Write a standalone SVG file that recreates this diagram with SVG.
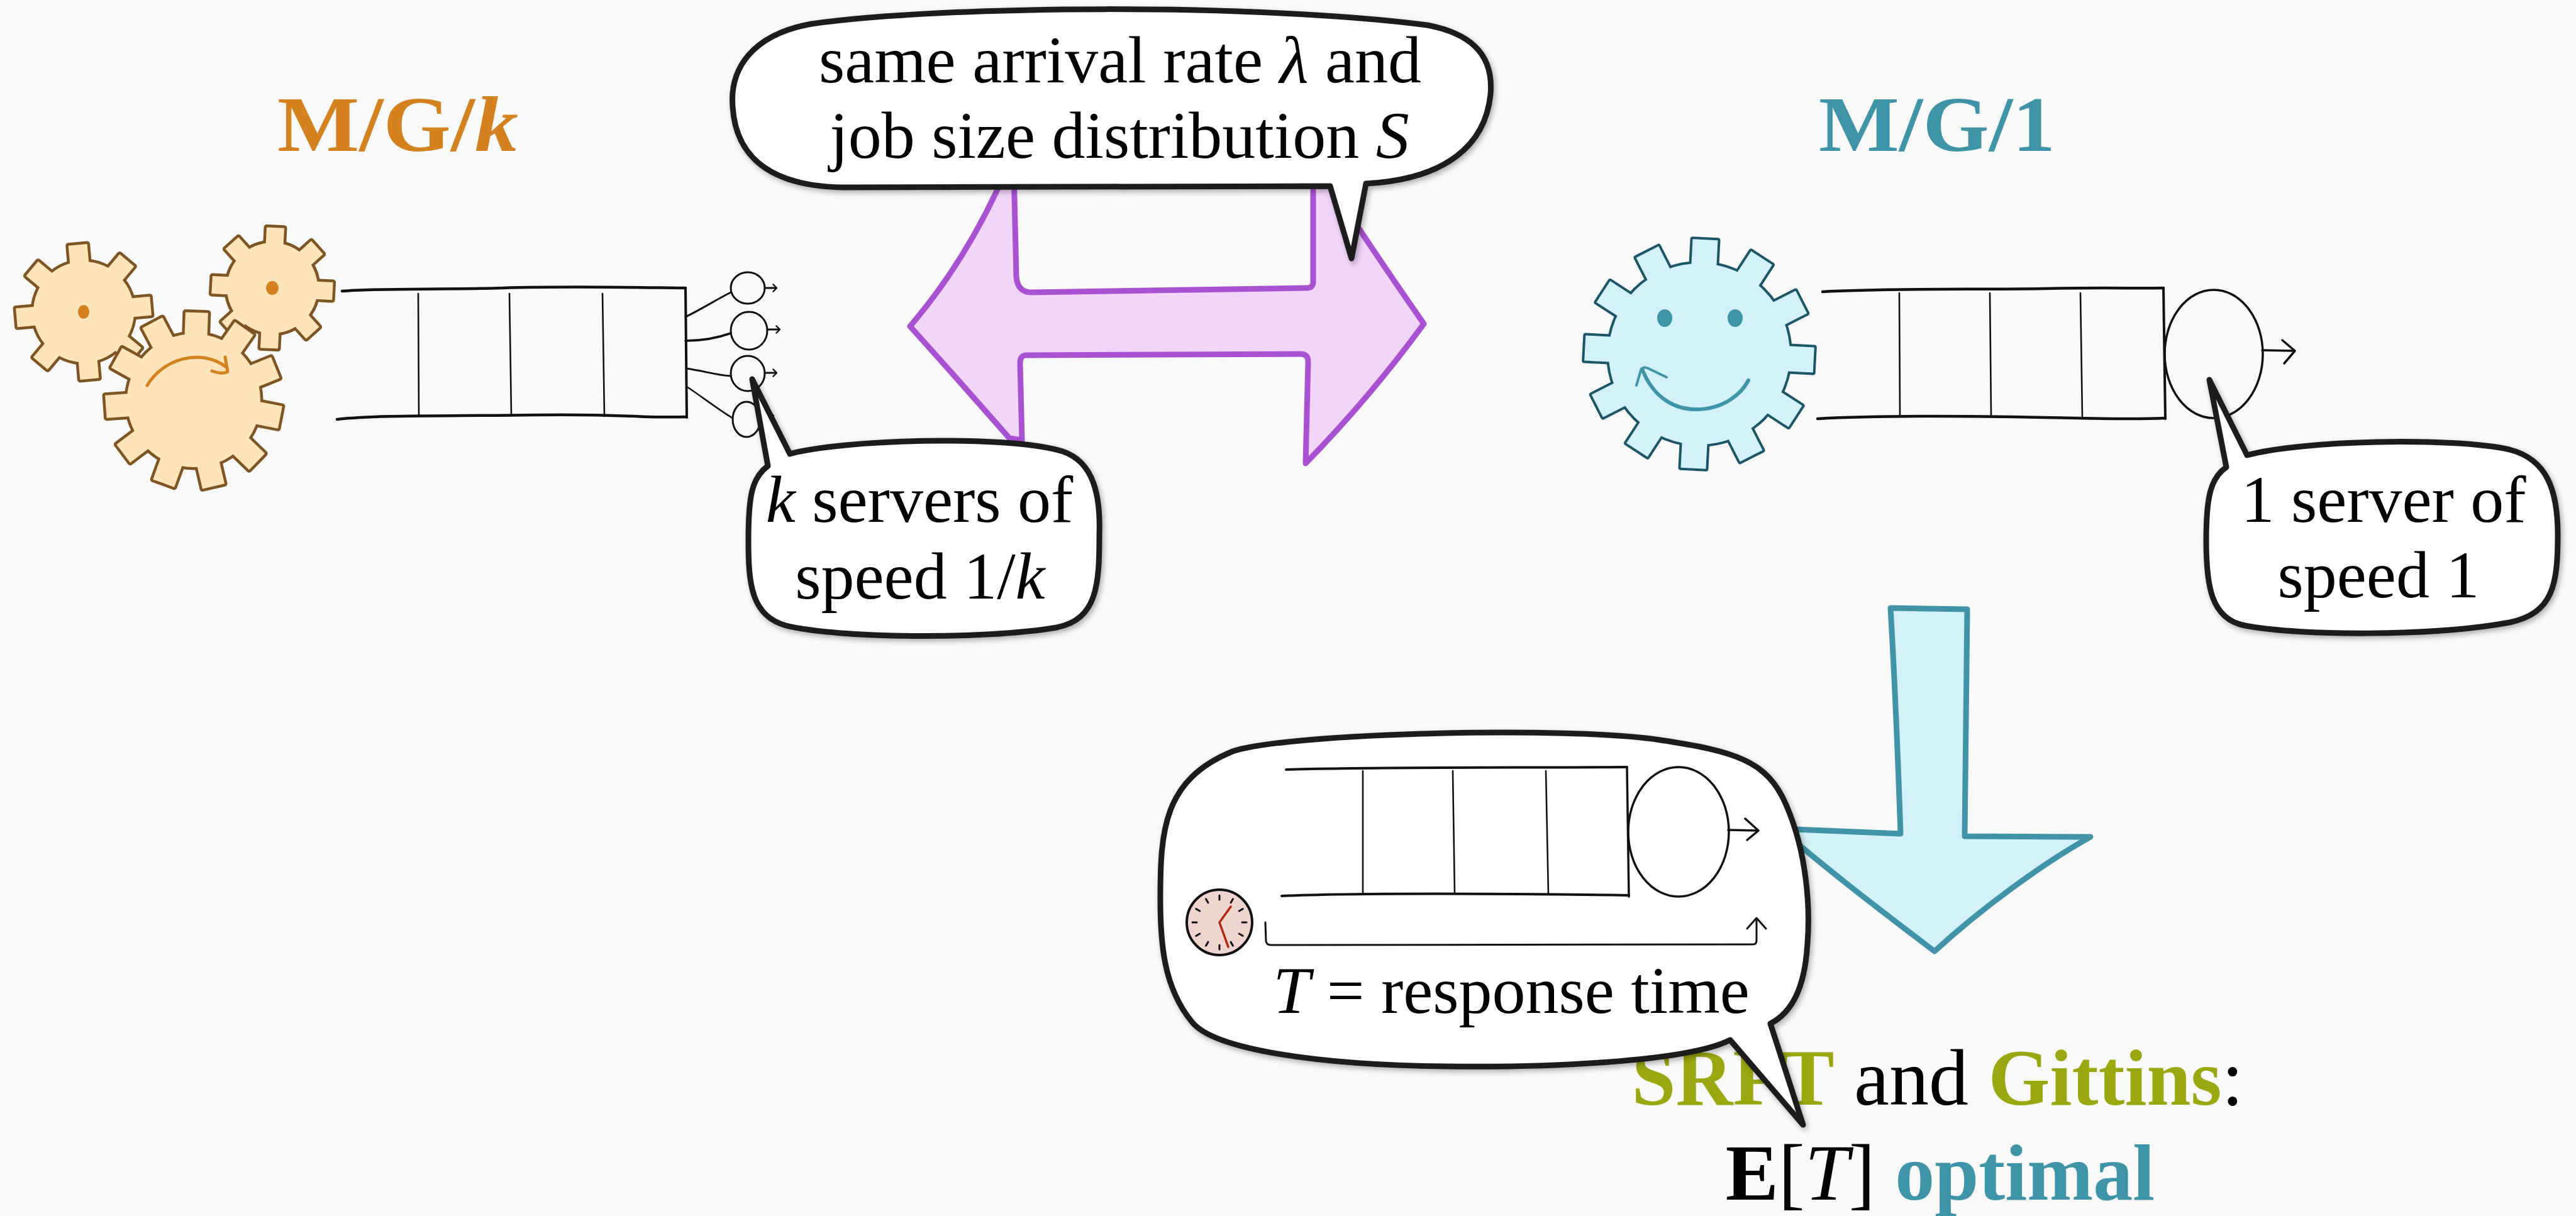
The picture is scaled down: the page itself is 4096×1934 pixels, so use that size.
<svg xmlns="http://www.w3.org/2000/svg" xmlns:xlink="http://www.w3.org/1999/xlink" width="4096" height="1934" viewBox="0 0 4096 1934">
  <style>
    .ink { fill: none; stroke: #111; stroke-linecap: round; stroke-linejoin: round; }
    .hline { stroke-width: 4.5; }
    .vline { stroke-width: 2.6; }
    .edge { stroke-width: 4; }
    .srv { fill: none; stroke: #111; stroke-width: 3.5; }
    .small { fill: none; stroke: #111; stroke-width: 3; }
    .bubble { fill: #ffffff; stroke: #1e1e1e; stroke-width: 9; stroke-linejoin: round; filter: url(#shade); }
    .txt { font-family: "Liberation Serif", "DejaVu Serif", serif; fill: #000; }
    .bt { font-size: 106px; text-anchor: middle; }
    .title { font-size: 124px; font-weight: bold; }
    .big { font-size: 126px; text-anchor: middle; }
    .orange-edge { fill: #7d5523; stroke: #7d5523; stroke-width: 9; stroke-linejoin: round; }
    .orange-face { fill: #ffe4bb; stroke: none; }
    .blue-edge { fill: #1c5566; stroke: #1c5566; stroke-width: 8; stroke-linejoin: round; }
    .blue-face { fill: #d2f1f8; stroke: none; }
  </style>
  <defs>
    <filter id="shade" x="-10%" y="-10%" width="120%" height="130%">
      <feDropShadow dx="3" dy="4" stdDeviation="4" flood-color="#000" flood-opacity="0.3"/>
    </filter>
    <!-- gear silhouettes: body disc plus rectangular teeth -->
    <g id="gearA">
      <circle r="80"/>
      <rect x="-15" y="-107" width="30" height="34" transform="rotate(-5)"/>
      <rect x="-15" y="-107" width="30" height="34" transform="rotate(40)"/>
      <rect x="-15" y="-107" width="30" height="34" transform="rotate(85)"/>
      <rect x="-15" y="-107" width="30" height="34" transform="rotate(130)"/>
      <rect x="-15" y="-107" width="30" height="34" transform="rotate(175)"/>
      <rect x="-15" y="-107" width="30" height="34" transform="rotate(220)"/>
      <rect x="-15" y="-107" width="30" height="34" transform="rotate(265)"/>
      <rect x="-15" y="-107" width="30" height="34" transform="rotate(310)"/>
    </g>
    <g id="gearB">
      <circle r="72"/>
      <rect x="-14" y="-96" width="28" height="30" transform="rotate(3)"/>
      <rect x="-14" y="-96" width="28" height="30" transform="rotate(48)"/>
      <rect x="-14" y="-96" width="28" height="30" transform="rotate(93)"/>
      <rect x="-14" y="-96" width="28" height="30" transform="rotate(138)"/>
      <rect x="-14" y="-96" width="28" height="30" transform="rotate(183)"/>
      <rect x="-14" y="-96" width="28" height="30" transform="rotate(228)"/>
      <rect x="-14" y="-96" width="28" height="30" transform="rotate(273)"/>
      <rect x="-14" y="-96" width="28" height="30" transform="rotate(318)"/>
    </g>
    <g id="gearC">
      <circle r="106"/>
      <rect x="-18" y="-140" width="36" height="40" transform="rotate(2)"/>
      <rect x="-18" y="-140" width="36" height="40" transform="rotate(35)"/>
      <rect x="-18" y="-140" width="36" height="40" transform="rotate(68)"/>
      <rect x="-18" y="-140" width="36" height="40" transform="rotate(101)"/>
      <rect x="-18" y="-140" width="36" height="40" transform="rotate(134)"/>
      <rect x="-18" y="-140" width="36" height="40" transform="rotate(167)"/>
      <rect x="-18" y="-140" width="36" height="40" transform="rotate(200)"/>
      <rect x="-18" y="-140" width="36" height="40" transform="rotate(233)"/>
      <rect x="-18" y="-140" width="36" height="40" transform="rotate(266)"/>
      <rect x="-18" y="-140" width="36" height="40" transform="rotate(299)"/>
      <rect x="-18" y="-140" width="36" height="40" transform="rotate(332)"/>
    </g>
    <g id="gearD">
      <circle r="144"/>
      <rect x="-20" y="-182" width="40" height="44" transform="rotate(3)"/>
      <rect x="-20" y="-182" width="40" height="44" transform="rotate(33)"/>
      <rect x="-20" y="-182" width="40" height="44" transform="rotate(63)"/>
      <rect x="-20" y="-182" width="40" height="44" transform="rotate(93)"/>
      <rect x="-20" y="-182" width="40" height="44" transform="rotate(123)"/>
      <rect x="-20" y="-182" width="40" height="44" transform="rotate(153)"/>
      <rect x="-20" y="-182" width="40" height="44" transform="rotate(183)"/>
      <rect x="-20" y="-182" width="40" height="44" transform="rotate(213)"/>
      <rect x="-20" y="-182" width="40" height="44" transform="rotate(243)"/>
      <rect x="-20" y="-182" width="40" height="44" transform="rotate(273)"/>
      <rect x="-20" y="-182" width="40" height="44" transform="rotate(303)"/>
      <rect x="-20" y="-182" width="40" height="44" transform="rotate(333)"/>
    </g>
    <line id="tick" x1="0" y1="-43" x2="0" y2="-36" stroke="#111" stroke-width="3" stroke-linecap="round"/>
    <path id="chev" d="M -7,-7 L 0,0 L -7,7" fill="none" stroke="#111" stroke-width="3" stroke-linecap="round" stroke-linejoin="round"/>
  </defs>

  <rect width="4096" height="1934" fill="#f9f9f9"/>

  <!-- titles -->
  <g id="title-mgk">
    <text class="txt title" x="441" y="240" style="fill:#d4821f" textLength="383" lengthAdjust="spacingAndGlyphs">M/G/<tspan font-style="italic">k</tspan></text>
  </g>
  <g id="title-mg1">
    <text class="txt title" x="2892" y="240" style="fill:#3f94a8" textLength="376" lengthAdjust="spacingAndGlyphs">M/G/1</text>
  </g>

  <!-- three orange gears -->
  <g id="gears-k">
    <use href="#gearA" class="orange-edge" transform="translate(133,496)"/>
    <use href="#gearA" class="orange-face" transform="translate(133,496)"/>
    <use href="#gearB" class="orange-edge" transform="translate(433,458)"/>
    <use href="#gearB" class="orange-face" transform="translate(433,458)"/>
    <use href="#gearC" class="orange-edge" transform="translate(308,637)"/>
    <use href="#gearC" class="orange-face" transform="translate(308,637)"/>
    <ellipse cx="133" cy="496" rx="9" ry="11" fill="#d4821f"/>
    <ellipse cx="433" cy="458" rx="10" ry="11" fill="#d4821f"/>
    <path d="M 234,613 C 258,572 318,552 360,584" fill="none" stroke="#d4821f" stroke-width="5" stroke-linecap="round"/>
    <path d="M 337,590 Q 355,596 362,591 L 358,568" fill="none" stroke="#d4821f" stroke-width="5" stroke-linecap="round" stroke-linejoin="round"/>
  </g>

  <!-- queue of the k-server system -->
  <g id="queue-k">
    <path class="ink hline" d="M 544,463 C 600,458 700,461 800,458 S 1000,457 1090,458"/>
    <path class="ink hline" d="M 536,667 C 600,660 700,662 850,660 S 1000,665 1091,663"/>
    <path class="ink edge" d="M 1090,458 L 1092,664"/>
    <path class="ink vline" d="M 665,467 L 666,660"/>
    <path class="ink vline" d="M 810,467 L 813,660"/>
    <path class="ink vline" d="M 958,467 L 961,662"/>
  </g>

  <!-- k small servers -->
  <g id="servers-k">
    <ellipse class="small" cx="1189" cy="458" rx="27" ry="25"/>
    <ellipse class="small" cx="1191" cy="526" rx="29" ry="30"/>
    <ellipse class="small" cx="1189" cy="594" rx="27" ry="28"/>
    <ellipse class="small" cx="1187" cy="667" rx="22" ry="28"/>
  </g>

  <!-- connectors: queue to servers, server outputs -->
  <g id="connectors">
    <path class="ink" stroke-width="3" d="M 1090,504 C 1115,492 1140,476 1162,465"/>
    <path class="ink" stroke-width="3.5" d="M 1090,542 C 1120,542 1145,536 1162,530"/>
    <path class="ink" stroke-width="3" d="M 1091,586 C 1120,590 1140,597 1162,598"/>
    <path class="ink" stroke-width="2.5" d="M 1092,615 C 1115,630 1140,650 1165,665"/>
    <path class="ink" stroke-width="3" d="M 1216,458 L 1234,458"/>
    <use href="#chev" transform="translate(1235,458) scale(0.8)"/>
    <path class="ink" stroke-width="3" d="M 1220,524 L 1239,524"/>
    <use href="#chev" transform="translate(1240,524) scale(0.8)"/>
    <path class="ink" stroke-width="3" d="M 1216,593 L 1234,593"/>
    <use href="#chev" transform="translate(1235,593) scale(0.8)"/>
    <path class="ink" stroke-width="3" d="M 1209,661 L 1229,661"/>
    <use href="#chev" transform="translate(1230,661) scale(0.8)"/>
    <path class="ink" stroke-width="3.5" d="M 3597,557 L 3648,558"/>
    <path class="ink" stroke-width="3.5" d="M 3629,541 L 3649,558 L 3632,578"/>
  </g>

  <!-- smiling single gear -->
  <g id="gear-1">
    <use href="#gearD" class="blue-edge" transform="translate(2702,563)"/>
    <use href="#gearD" class="blue-face" transform="translate(2702,563)"/>
    <ellipse cx="2647" cy="506" rx="12" ry="14" fill="#3f94a8"/>
    <ellipse cx="2759" cy="506" rx="12" ry="14" fill="#3f94a8"/>
    <path d="M 2611,587 C 2630,635 2665,652 2700,651 C 2740,650 2768,628 2780,605" fill="none" stroke="#3f94a8" stroke-width="6" stroke-linecap="round"/>
    <path d="M 2602,613 L 2609,589 Q 2613,582 2621,586 L 2650,600" fill="none" stroke="#3f94a8" stroke-width="4" stroke-linecap="round" stroke-linejoin="round"/>
  </g>

  <!-- queue of the single-server system -->
  <g id="queue-1">
    <path class="ink hline" d="M 2898,464 C 3000,458 3150,461 3250,459 S 3400,459 3440,458"/>
    <path class="ink hline" d="M 2890,666 C 3000,660 3150,662 3250,664 S 3400,667 3442,665"/>
    <path class="ink edge" d="M 3440,458 L 3443,666"/>
    <path class="ink vline" d="M 3020,466 L 3021,660"/>
    <path class="ink vline" d="M 3164,466 L 3166,660"/>
    <path class="ink vline" d="M 3308,466 L 3311,664"/>
    <ellipse class="srv" cx="3520" cy="563" rx="78" ry="102"/>
  </g>

  <!-- purple double arrow -->
  <g id="arrow-equiv">
    <path d="M 1612,270 L 1616,440 Q 1618,465 1640,465 L 2078,458 Q 2088,458 2088,448 L 2088,270 L 2100,270 Q 2170,380 2264,515 Q 2180,630 2076,737 L 2080,575 Q 2080,563 2068,563 L 1632,565 Q 1622,565 1622,577 L 1625,700 L 1605,697 Q 1520,600 1447,519 Q 1540,410 1600,270 Z" fill="#f1d5fb" stroke="#a852d2" stroke-width="9" stroke-linejoin="round"/>
  </g>

  <!-- teal down arrow -->
  <g id="arrow-down">
    <path d="M 3006,967 L 3128,969 L 3124,1330 L 3324,1331 C 3250,1372 3150,1445 3076,1513 C 3000,1455 2920,1395 2830,1318 L 3022,1326 Q 3015,1120 3006,967 Z" fill="#d3f1f8" stroke="#4194a8" stroke-width="9" stroke-linejoin="round"/>
  </g>

  <!-- conclusion -->
  <g id="conclusion">
    <text class="txt big" x="3081" y="1757"><tspan font-weight="bold" style="fill:#99a80f">SRPT</tspan> and <tspan font-weight="bold" style="fill:#99a80f">Gittins</tspan>:</text>
    <text class="txt big" x="3085" y="1908"><tspan font-weight="bold">E</tspan>[<tspan font-style="italic">T</tspan>] <tspan font-weight="bold" style="fill:#3f94a8">optimal</tspan></text>
  </g>

  <!-- speech bubble: shared assumptions -->
  <g id="bubble-same">
    <path class="bubble" d="M 1340,298 L 2115,296 L 2149,411 L 2172,292 C 2300,285 2362,230 2370,150 C 2376,80 2330,52 2270,40 C 2000,5 1500,8 1290,38 C 1195,55 1160,110 1165,170 C 1170,250 1225,296 1340,298 Z"/>
    <text class="txt bt" x="1781" y="131">same arrival rate <tspan font-style="italic">λ</tspan> and</text>
    <text class="txt bt" x="1780" y="251">job size distribution <tspan font-style="italic">S</tspan></text>
  </g>

  <!-- speech bubble: k servers -->
  <g id="bubble-k">
    <path class="bubble" d="M 1256,722 C 1330,700 1600,690 1690,718 C 1740,735 1750,790 1748,850 C 1748,930 1745,985 1680,998 C 1560,1018 1330,1015 1250,995 C 1195,980 1190,930 1190,860 C 1190,790 1195,760 1221,741 L 1196,603 Z"/>
    <text class="txt bt" x="1462" y="830"><tspan font-style="italic">k</tspan> servers of</text>
    <text class="txt bt" x="1463" y="952">speed 1/<tspan font-style="italic">k</tspan></text>
  </g>

  <!-- speech bubble: one server -->
  <g id="bubble-1">
    <path class="bubble" d="M 3573,724 C 3660,700 3900,695 3990,715 C 4050,730 4067,780 4067,850 C 4067,930 4060,975 3990,990 C 3870,1012 3660,1012 3570,995 C 3515,985 3508,930 3508,860 C 3508,790 3515,760 3540,743 L 3513,604 Z"/>
    <text class="txt bt" x="3790" y="830">1 server of</text>
    <text class="txt bt" x="3782" y="950">speed 1</text>
  </g>

  <!-- speech bubble: response time -->
  <g id="bubble-T">
    <path class="bubble" d="M 2751,1654 C 2680,1690 2450,1698 2300,1696 C 2100,1694 1930,1670 1895,1625 C 1850,1570 1845,1500 1845,1430 C 1845,1320 1850,1240 1960,1195 C 2050,1165 2500,1155 2640,1177 C 2760,1195 2810,1210 2840,1280 C 2875,1360 2878,1450 2874,1500 C 2870,1570 2850,1610 2815,1628 L 2867,1789 Z"/>
    <path class="ink" stroke-width="4" d="M 2045,1224 C 2150,1220 2400,1221 2587,1220"/>
    <path class="ink" stroke-width="4" d="M 2038,1425 C 2150,1420 2400,1421 2590,1424"/>
    <path class="ink" stroke-width="3.5" d="M 2587,1220 L 2590,1426"/>
    <path class="ink vline" d="M 2167,1226 L 2167,1420"/>
    <path class="ink vline" d="M 2310,1226 L 2313,1420"/>
    <path class="ink vline" d="M 2458,1226 L 2462,1422"/>
    <ellipse class="srv" cx="2669" cy="1323" rx="80" ry="103"/>
    <path class="ink" stroke-width="3.5" d="M 2748,1320 L 2795,1321"/>
    <path class="ink" stroke-width="3.5" d="M 2775,1302 L 2796,1321 L 2778,1336"/>
    <path class="ink" stroke-width="3" d="M 2012,1467 L 2013,1497 Q 2014,1503 2021,1503 L 2787,1502 Q 2793,1502 2793,1496 L 2793,1462"/>
    <path class="ink" stroke-width="3" d="M 2778,1477 L 2793,1460 L 2808,1477"/>
    <ellipse cx="1939" cy="1467" rx="52" ry="52" fill="#f0d4cf" stroke="#111" stroke-width="4"/>
    <g transform="translate(1939,1467)">
      <use href="#tick"/>
      <use href="#tick" transform="rotate(30)"/>
      <use href="#tick" transform="rotate(60)"/>
      <use href="#tick" transform="rotate(90)"/>
      <use href="#tick" transform="rotate(120)"/>
      <use href="#tick" transform="rotate(150)"/>
      <use href="#tick" transform="rotate(180)"/>
      <use href="#tick" transform="rotate(210)"/>
      <use href="#tick" transform="rotate(240)"/>
      <use href="#tick" transform="rotate(270)"/>
      <use href="#tick" transform="rotate(300)"/>
      <use href="#tick" transform="rotate(330)"/>
    </g>
    <path d="M 1957,1442 L 1939,1467 L 1953,1506" fill="none" stroke="#b3260b" stroke-width="3.5" stroke-linecap="round" stroke-linejoin="round"/>
    <text class="txt bt" x="2403" y="1611"><tspan font-style="italic">T</tspan> = response time</text>
  </g>
</svg>
